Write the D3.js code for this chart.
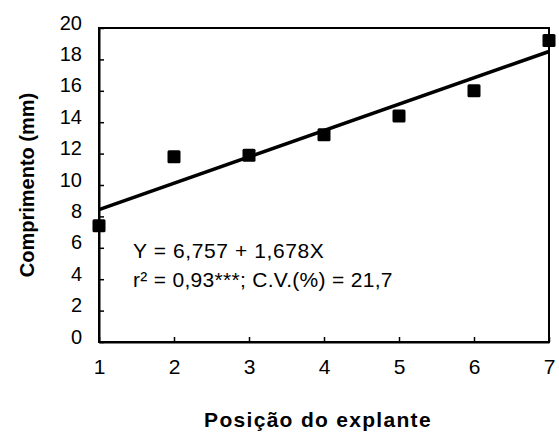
<!DOCTYPE html>
<html><head><meta charset="utf-8">
<script src="https://cdn.jsdelivr.net/npm/d3@7"></script>
<style>
body{margin:0;background:#fff;}
text{font-family:"Liberation Sans",Arial,sans-serif;fill:#000;}
</style></head>
<body>
<svg id="c" width="559" height="433"></svg>
<script>
const positions = [1, 2, 3, 4, 5, 6, 7];
const lengths = [7.4, 11.8, 11.9, 13.2, 14.4, 16.0, 19.2];
const xTicks = [1, 2, 3, 4, 5, 6, 7];
const yTicks = [0, 2, 4, 6, 8, 10, 12, 14, 16, 18, 20];
const intercept = 6.757, slope = 1.678;
const equationText = "Y = 6,757 + 1,678X";
const statsText = "r² = 0,93***; C.V.(%) = 21,7";
const xTitle = "Posição do explante";
const yTitle = "Comprimento (mm)";

const svg = d3.select("#c");
const L = 99, R = 549, T = 28, B = 342;
const x = d3.scaleLinear().domain([1, 7]).range([L, R]);
const y = d3.scaleLinear().domain([0, 20]).range([B, T]);

// frame
svg.append("rect").attr("x", L).attr("y", T).attr("width", R - L).attr("height", B - T)
  .attr("fill", "none").attr("stroke", "#000").attr("stroke-width", 2);

// y axis
const yAx = svg.append("g").attr("transform", `translate(${L},0)`)
  .call(d3.axisLeft(y).tickValues(yTicks).tickSizeInner(-5).tickSizeOuter(0).tickPadding(17));
yAx.select(".domain").attr("stroke", "#000").attr("stroke-width", 2);
yAx.selectAll(".tick line").attr("stroke", "#000").attr("stroke-width", 1.5);
yAx.selectAll(".tick text").attr("font-size", 20).attr("dy", "0.05em")
  .style("font-family", "'Liberation Sans',Arial,sans-serif");

// x axis
const xAx = svg.append("g").attr("transform", `translate(0,${B})`)
  .call(d3.axisBottom(x).tickValues(xTicks).tickFormat(d3.format("d")).tickSizeInner(-5).tickSizeOuter(0).tickPadding(17));
xAx.select(".domain").attr("stroke", "#000").attr("stroke-width", 2);
xAx.selectAll(".tick line").attr("stroke", "#000").attr("stroke-width", 1.5);
xAx.selectAll(".tick text").attr("font-size", 21)
  .style("font-family", "'Liberation Sans',Arial,sans-serif");

// regression line
svg.append("line")
  .attr("x1", x(1)).attr("y1", y(intercept + slope * 1))
  .attr("x2", x(7)).attr("y2", y(intercept + slope * 7))
  .attr("stroke", "#000").attr("stroke-width", 3.5);

// points
const s = 13;
svg.append("g").selectAll("rect").data(positions).join("rect")
  .attr("x", (d) => x(d) - s / 2)
  .attr("y", (d, i) => y(lengths[i]) - s / 2)
  .attr("width", s).attr("height", s).attr("rx", 1.5).attr("fill", "#000");

// annotations
svg.append("text").attr("x", 133).attr("y", 258).attr("font-size", 21).attr("letter-spacing", 0.6).text(equationText);
svg.append("text").attr("x", 133).attr("y", 287).attr("font-size", 21).attr("letter-spacing", 0.3).text(statsText);

// axis titles
svg.append("text").attr("x", 318).attr("y", 427).attr("text-anchor", "middle")
  .attr("font-size", 21).attr("font-weight", "bold").attr("letter-spacing", 1.3).text(xTitle);
svg.append("text").attr("transform", "translate(34,185) rotate(-90)").attr("text-anchor", "middle")
  .attr("font-size", 20).attr("font-weight", "bold").text(yTitle);
</script>
</body></html>
